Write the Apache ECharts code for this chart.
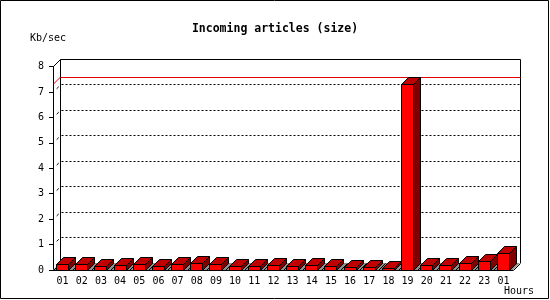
<!DOCTYPE html>
<html>
<head>
<meta charset="utf-8">
<script src="https://cdn.jsdelivr.net/npm/echarts@6/dist/echarts.min.js"></script>
<style>html,body{margin:0;padding:0;background:#fff}#c{width:550px;height:300px}</style>
</head>
<body>
<div id="c"></div>
<script>
const hours = ['01','02','03','04','05','06','07','08','09','10','11','12','13','14','15','16','17','18','19','20','21','22','23','01'];
const sizeKb = [0.22,0.20,0.15,0.18,0.22,0.15,0.20,0.26,0.22,0.15,0.15,0.19,0.15,0.19,0.15,0.10,0.10,0.06,7.31,0.19,0.19,0.26,0.35,0.66];
const yTicks = [0,1,2,3,4,5,6,7,8];
const yMax = 8;
const maxValue = Math.max.apply(null, sizeKb);

const DX = 7, DY = 7;
const FONT = '"DejaVu Sans Mono", monospace';
function crisp(v){ return Math.floor(v) + 0.5; }

function renderBack(params, api){
  const cs = params.coordSys;
  const v = api.value(1);
  const y = api.coord([0, v])[1];
  const xL = cs.x, xR = cs.x + cs.width;
  const ch = [];
  if (v === 0) {
    const yTop = api.coord([0, yMax])[1];
    ch.push({type:'polygon', shape:{points:[[xL,y],[xR,y],[xR+DX,y-DY],[xL+DX,y-DY]]}, style:{fill:'#8e8e8e', stroke:null}});
    ch.push({type:'line', shape:{x1:crisp(xL+DX), y1:crisp(yTop-DY), x2:crisp(xL+DX), y2:y-DY}, style:{stroke:'#000', lineWidth:1}});
    ch.push({type:'line', shape:{x1:crisp(xR+DX), y1:crisp(yTop-DY), x2:crisp(xR+DX), y2:y-DY}, style:{stroke:'#000', lineWidth:1}});
  } else if (v === yMax) {
    ch.push({type:'line', shape:{x1:crisp(xL+DX), y1:crisp(y-DY), x2:crisp(xR+DX), y2:crisp(y-DY)}, style:{stroke:'#000', lineWidth:1}});
    ch.push({type:'line', shape:{x1:xL+0.5, y1:y, x2:xL+DX+0.5, y2:y-DY}, style:{stroke:'#000', lineWidth:1}});
  } else {
    ch.push({type:'line', shape:{x1:crisp(xL+DX)+1, y1:crisp(y-DY), x2:crisp(xR+DX), y2:crisp(y-DY)}, style:{stroke:'#000', lineWidth:1, lineDash:[2,2]}});
    ch.push({type:'line', shape:{x1:xL+0.5+DX*0.45, y1:y-DY*0.45, x2:xL+0.5+DX*0.75, y2:y-DY*0.75}, style:{stroke:'#000', lineWidth:1}});
  }
  return {type:'group', children:ch};
}

function renderMax(params, api){
  const cs = params.coordSys;
  const y = api.coord([0, api.value(1)])[1];
  const xL = cs.x, xR = cs.x + cs.width;
  return {type:'group', children:[
    {type:'line', shape:{x1:crisp(xL+DX), y1:crisp(y-DY), x2:crisp(xR+DX), y2:crisp(y-DY)}, style:{stroke:'#e00000', lineWidth:1}},
    {type:'line', shape:{x1:xL+0.5, y1:y, x2:xL+DX+0.5, y2:y-DY}, style:{stroke:'#e00000', lineWidth:1}}
  ]};
}

function renderBar(params, api){
  const i = api.value(0), v = api.value(1);
  const p0 = api.coord([i, 0]), p1 = api.coord([i, v]);
  const cw = api.size([1, 0])[0];
  const bw = Math.round(cw * 0.63);
  const x0 = crisp(p0[0] - bw / 2), x1 = x0 + bw;
  const yb = crisp(p0[1]), yt = crisp(p1[1]);
  const ch = [];
  const bx = crisp(p0[0] - cw / 2);
  ch.push({type:'line', shape:{x1:bx, y1:yb, x2:bx+DX, y2:yb-DY}, style:{stroke:'#000', lineWidth:1}});
  if (i === sizeKb.length - 1) {
    const bx2 = crisp(p0[0] + cw / 2);
    ch.push({type:'line', shape:{x1:bx2, y1:yb, x2:bx2+DX, y2:yb-DY}, style:{stroke:'#000', lineWidth:1}});
  }
  ch.push({type:'polygon', shape:{points:[[x1,yt],[x1+DX,yt-DY],[x1+DX,yb-DY],[x1,yb]]}, style:{fill:'#800000', stroke:'#000', lineWidth:1}});
  ch.push({type:'polygon', shape:{points:[[x0,yt],[x0+DX,yt-DY],[x1+DX,yt-DY],[x1,yt]]}, style:{fill:'#c00000', stroke:'#000', lineWidth:1}});
  ch.push({type:'rect', shape:{x:x0, y:yt, width:bw, height:yb-yt}, style:{fill:'#ff0000', stroke:'#000', lineWidth:1}});
  return {type:'group', children:ch};
}

const chart = echarts.init(document.getElementById('c'), null, {renderer:'canvas'});
chart.setOption({
  animation: false,
  backgroundColor: '#fff',
  title: {
    text: 'Incoming articles (size)', left: 'center', top: 18,
    textStyle: {fontFamily: FONT, fontWeight: 'bold', fontSize: 11.5, color: '#000'}
  },
  grid: {left: 53, right: 37, top: 66.5, bottom: 30},
  xAxis: {
    type: 'category', data: hours,
    axisLine: {lineStyle: {color: '#000', width: 1}},
    axisTick: {length: 5, lineStyle: {color: '#000'}},
    axisLabel: {color: '#000', fontFamily: FONT, fontSize: 10, margin: 6},
    splitLine: {show: false}
  },
  yAxis: {
    type: 'value', min: 0, max: yMax, interval: 1,
    axisLine: {show: true, lineStyle: {color: '#000', width: 1}},
    axisTick: {show: true, length: 4, lineStyle: {color: '#000'}},
    axisLabel: {color: '#000', fontFamily: FONT, fontSize: 10, margin: 9},
    splitLine: {show: false}
  },
  graphic: [
    {type: 'rect', shape: {x: 0.5, y: 0.5, width: 548, height: 298}, style: {fill: null, stroke: '#000', lineWidth: 1}, silent: true},
    {type: 'text', left: 30, top: 33, style: {text: 'Kb/sec', font: '10px ' + FONT, fill: '#000'}},
    {type: 'text', left: 504, top: 286, style: {text: 'Hours', font: '10px ' + FONT, fill: '#000'}}
  ],
  series: [
    {type: 'custom', renderItem: renderBack, encode: {x: 0, y: 1}, data: yTicks.map(v => [0, v]), silent: true, clip: false, z: 1},
    {type: 'custom', renderItem: renderMax, encode: {x: 0, y: 1}, data: [[0, maxValue]], silent: true, clip: false, z: 2},
    {type: 'custom', renderItem: renderBar, encode: {x: 0, y: 1}, data: sizeKb.map((v, i) => [i, v]), clip: false, z: 3}
  ]
});
</script>
</body>
</html>
